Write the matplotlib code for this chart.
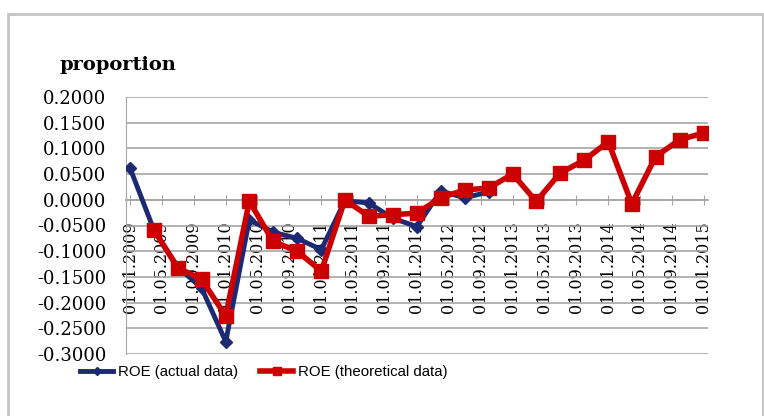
import numpy as np
import pandas as pd
import matplotlib
matplotlib.use("Agg")
import matplotlib.pyplot as plt
import matplotlib.dates as mdates
from matplotlib.ticker import FuncFormatter, MultipleLocator
from matplotlib.patches import Rectangle

# quarterly observation dates
dates = ["2009-01-01", "2009-04-01", "2009-07-01", "2009-10-01",
         "2010-01-01", "2010-04-01", "2010-07-01", "2010-10-01",
         "2011-01-01", "2011-04-01", "2011-07-01", "2011-10-01",
         "2012-01-01", "2012-04-01", "2012-07-01", "2012-10-01",
         "2013-01-01", "2013-04-01", "2013-07-01", "2013-10-01",
         "2014-01-01", "2014-04-01", "2014-07-01", "2014-10-01",
         "2015-01-01"]

roe_actual = [0.061, -0.058, -0.130, -0.172, -0.276, -0.039, -0.063, -0.075,
              -0.097, -0.002, -0.006, -0.036, -0.052, 0.017, 0.004, 0.015,
              None, None, None, None, None, None, None, None, None]

roe_theor = [None, -0.058, -0.132, -0.155, -0.226, -0.003, -0.081, -0.100,
             -0.139, 0.000, -0.032, -0.029, -0.026, 0.004, 0.019, 0.023,
             0.050, -0.003, 0.052, 0.077, 0.113, -0.008, 0.084, 0.117,
             0.130]

x = pd.to_datetime(dates)
actual = np.array([np.nan if v is None else v for v in roe_actual])
theor = np.array([np.nan if v is None else v for v in roe_theor])

plt.rcParams['axes.unicode_minus'] = False

W, H = 764, 416
fig = plt.figure(figsize=(W/100, H/100), dpi=100, facecolor="white")
ax = fig.add_axes([126/W, 1-354/H, (708-126)/W, (354-97)/H])

# outer chart border
fig.patches.append(Rectangle((8/W, -0.2), (763-8)/W, 1.2-14/H, transform=fig.transFigure,
                             fill=False, edgecolor="#c4c4c4", linewidth=2))

ax.plot(x, actual, "-D", color="#1c2a74", linewidth=3.5, markersize=6.5, label="ROE (actual data)", zorder=3)
ax.plot(x, theor, "-s", color="#cc0000", linewidth=4, markersize=9.5, label="ROE (theoretical data)", zorder=4)

ax.set_ylim(-0.3, 0.2)
ax.yaxis.set_major_locator(MultipleLocator(0.05))
ax.yaxis.set_major_formatter(FuncFormatter(lambda v, p: "%.4f" % v))
ax.set_xlim(pd.Timestamp("2008-12-16"), pd.Timestamp("2015-01-17"))
ax.xaxis.set_major_locator(mdates.MonthLocator(bymonth=[1, 5, 9]))
ax.xaxis.set_major_formatter(mdates.DateFormatter("%d.%m.%Y"))

ax.grid(axis="y", color="#a6a6a6", linewidth=1.2)
ax.set_axisbelow(True)
for s in ["top", "right"]:
    ax.spines[s].set_visible(False)
ax.spines["left"].set_color("#a6a6a6")
ax.spines["bottom"].set_position(("data", 0))
ax.spines["bottom"].set_color("#a6a6a6")
ax.spines["bottom"].set_linewidth(1.2)

ax.tick_params(axis="y", length=0, pad=14, labelsize=13)
ax.tick_params(axis="x", direction="inout", length=7, color="#a6a6a6", pad=12, labelsize=11.5,
               labelrotation=90)
for t in ax.get_yticklabels() + ax.get_xticklabels():
    t.set_fontfamily("DejaVu Serif")

fig.text(60/W, 1-65/H, "proportion", fontfamily="DejaVu Serif", fontweight="bold",
         fontsize=14, va="center", ha="left")

fig.legend(loc="center left", bbox_to_anchor=(80/W, 1-372/H), ncol=2, frameon=False,
           borderpad=0, borderaxespad=0, handlelength=2.2, handletextpad=0.3,
           columnspacing=1.5, markerscale=0.6,
           prop={"family": "Liberation Sans", "size": 10.8})

fig.savefig("out.png", dpi=100, facecolor="white")
